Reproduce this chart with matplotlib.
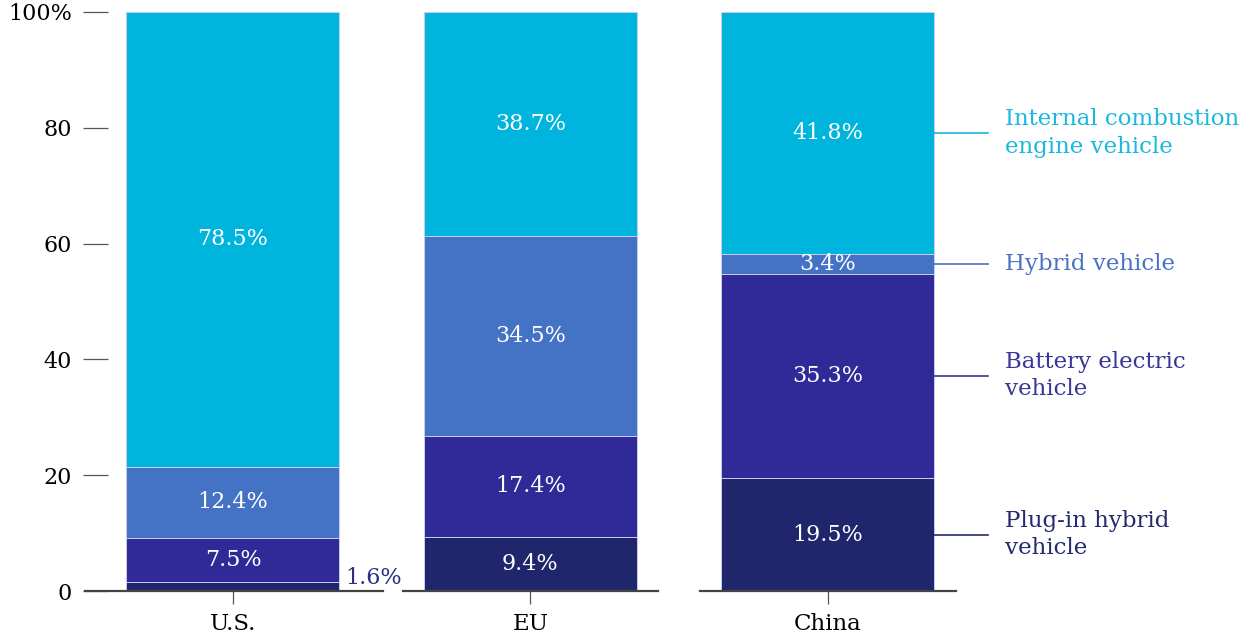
import numpy as np
import matplotlib.pyplot as plt

regions = ['U.S.', 'EU', 'China']
segments = ['Plug-in hybrid\nvehicle', 'Battery electric\nvehicle',
            'Hybrid vehicle', 'Internal combustion\nengine vehicle']
phev = [1.6, 9.4, 19.5]
bev = [7.5, 17.4, 35.3]
hybrid = [12.4, 34.5, 3.4]
ice = [78.5, 38.7, 41.8]
yticks = [0, 20, 40, 60, 80, 100]
ytick_labels = ['0', '20', '40', '60', '80', '100%']

colors = ['#1f266b', '#2f2a97', '#4472c4', '#00b5dd']
text_colors = ['#232a6e', '#3a3596', '#4a72c4', '#1ab8de']

plt.rcParams['font.family'] = ['DejaVu Serif']

fig = plt.figure(figsize=(12.53, 6.39), dpi=100)
ax = fig.add_axes([108 / 1253, 48 / 639, 852 / 1253, 579 / 639])

x = np.arange(len(regions))
width = 0.716
series = [phev, bev, hybrid, ice]
bottom = np.zeros(len(regions))
for vals, col in zip(series, colors):
    ax.bar(x, vals, width, bottom=bottom, color=col,
           edgecolor='#c9cdf0', linewidth=0.7, zorder=2)
    for i, v in enumerate(vals):
        if v < 2:
            ax.text(x[i] + width / 2 + 0.02, bottom[i] + 0.3, f'{v}%',
                    ha='left', va='bottom', color='#2a2f80', fontsize=16)
        else:
            ax.text(x[i], bottom[i] + v / 2, f'{v}%', ha='center',
                    va='center', color='white', fontsize=16)
    bottom += np.array(vals)

# labels next to the China bar
bottom = 0
for vals, lab, tc in zip(series, segments, text_colors):
    mid = bottom + vals[2] / 2
    ax.plot([2 + width / 2, 2.538], [mid, mid], color=tc, lw=1.2,
            clip_on=False)
    ax.text(2.595, mid, lab, color=tc, fontsize=16.5, va='center',
            ha='left', linespacing=1.3, clip_on=False)
    bottom += vals[2]

# broken baseline
base = [(-0.497, 0.503), (0.573, 1.43), (1.57, 2.43)]
for a, b in base:
    ax.plot([a, b], [0, 0], color='#444444', lw=1.6, clip_on=False, zorder=3)

ax.set_xlim(-0.42, 2.444)
ax.set_ylim(0, 100)
ax.set_yticks(yticks)
ax.set_yticklabels(ytick_labels, fontsize=16)
ax.set_xticks(x)
ax.set_xticklabels(regions, fontsize=16.5)
ax.tick_params(axis='y', length=18, width=0.9, color='#555555', pad=8)
ax.tick_params(axis='x', length=9, width=0.9, color='#555555', pad=7)
for s in ax.spines.values():
    s.set_visible(False)

fig.savefig('out.png', dpi=100)
